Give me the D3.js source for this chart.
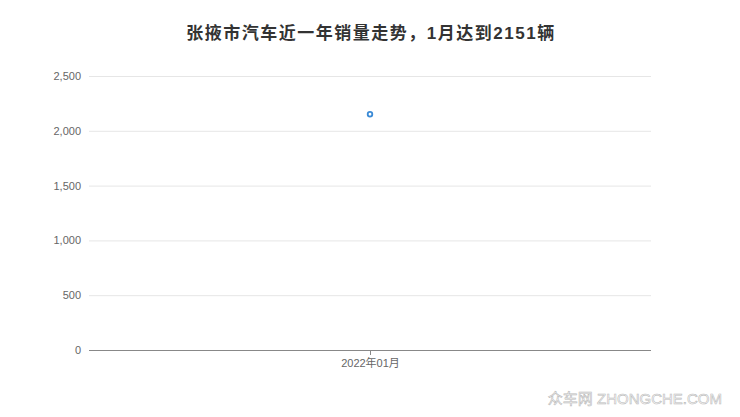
<!DOCTYPE html>
<html>
<head>
<meta charset="utf-8">
<script src="https://cdn.jsdelivr.net/npm/d3@7"></script>
<style>
  body { margin: 0; background: #fff; }
  text { font-family: "Liberation Sans", "Noto Sans CJK SC", sans-serif; }
</style>
</head>
<body>
<svg id="chart"></svg>
<script>
// data
var months = ["2022年01月"];
var sales = [2151];
var yTicks = [0, 500, 1000, 1500, 2000, 2500];

var width = 740,
	height = 417;
var margin = {top: 76, right: 89, bottom: 67, left: 89};

var svg = d3.select("#chart")
	.attr("width", width)
	.attr("height", height);

// title
svg.append("text")
	.attr("x", width / 2 + 1)
	.attr("y", 39)
	.attr("text-anchor", "middle")
	.attr("font-size", 17)
	.attr("letter-spacing", 1.5)
	.attr("font-weight", "bold")
	.attr("fill", "#333")
	.attr("font-family", "'Noto Sans CJK SC', sans-serif")
	.text("张掖市汽车近一年销量走势，1月达到2151辆");

var x = d3.scalePoint()
	.domain(months)
	.range([margin.left, width - margin.right])
	.padding(0.5);

var y = d3.scaleLinear()
	.domain([0, 2500])
	.range([height - margin.bottom, margin.top]);

// gridlines + y labels
var yAxis = svg.append("g")
	.attr("transform", "translate(" + margin.left + ",0)")
	.call(d3.axisLeft(y).tickValues(yTicks).tickSize(-(width - margin.left - margin.right)).tickPadding(8).tickFormat(d3.format(",")));
yAxis.select(".domain").remove();
yAxis.selectAll(".tick line").attr("stroke", "#e6e6e6");
yAxis.selectAll(".tick text").attr("fill", "#666").attr("font-size", 11);

// x axis
var xAxis = svg.append("g")
	.attr("transform", "translate(0," + y(0) + ")")
	.call(d3.axisBottom(x).tickSize(5).tickPadding(4).tickSizeOuter(0));
xAxis.select(".domain").attr("stroke", "#888").attr("d", "M" + margin.left + ",0.5H" + (width - margin.right));
xAxis.selectAll(".tick line").attr("stroke", "#888");
xAxis.selectAll(".tick text").attr("fill", "#666").attr("font-size", 11)
	.attr("font-family", "'Noto Sans CJK SC', sans-serif");

// points
svg.append("g").selectAll("circle")
	.data(sales)
	.enter()
	.append("circle")
	.attr("cx", function(d, i) { return x(months[i]); })
	.attr("cy", function(d) { return y(d); })
	.attr("r", 2.3)
	.attr("fill", "#fff")
	.attr("stroke", "#3a8ad6")
	.attr("stroke-width", 1.8);

// watermark
svg.append("text")
	.attr("x", 722)
	.attr("y", 404)
	.attr("text-anchor", "end")
	.attr("font-size", 15)
	.attr("fill", "#fff")
	.attr("stroke", "#bbb")
	.attr("stroke-width", 0.6)
	.attr("font-family", "'Noto Sans CJK SC', sans-serif")
	.text("众车网 ZHONGCHE.COM");
</script>
</body>
</html>
